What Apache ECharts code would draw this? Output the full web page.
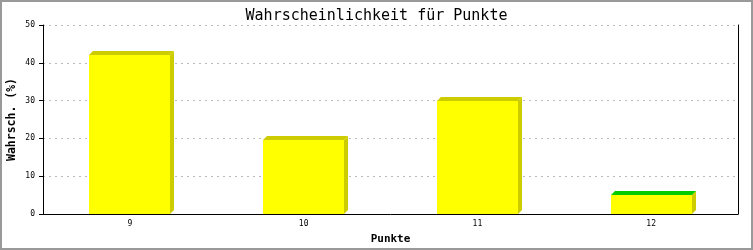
<!DOCTYPE html>
<html><head><meta charset="utf-8">
<script src="https://cdn.jsdelivr.net/npm/echarts@6/dist/echarts.min.js"></script>
<style>html,body{margin:0;padding:0;background:#fff}#c{width:753px;height:250px}</style>
</head><body><div id="c"></div>
<script>
const categories = ['9', '10', '11', '12'];
const values = [42, 19.6, 30, 5];
const topColors = ['#cccc00', '#cccc00', '#cccc00', '#00cc00'];
const yTicks = [0, 10, 20, 30, 40, 50];

const chart = echarts.init(document.getElementById('c'));
const mono = '"DejaVu Sans Mono", monospace';
chart.setOption({
  animation: false,
  backgroundColor: '#fff',
  title: {
    text: 'Wahrscheinlichkeit für Punkte', left: 'center', top: 4,
    textStyle: { fontFamily: mono, fontSize: 15, fontWeight: 'normal', color: '#000' }
  },
  grid: { left: 43, right: 15, top: 25, bottom: 36, show: false, containLabel: false, outerBoundsMode: 'none' },
  xAxis: {
    type: 'category', data: categories, boundaryGap: true,
    name: 'Punkte', nameLocation: 'middle', nameGap: 20, nameMoveOverlap: false,
    nameTextStyle: { fontFamily: mono, fontSize: 11, fontWeight: 'bold', color: '#000' },
    axisLine: { lineStyle: { color: '#000', width: 1 } },
    axisTick: { show: false },
    axisLabel: { fontFamily: mono, fontSize: 8, color: '#000', margin: 6 }
  },
  yAxis: [{
    type: 'value', min: yTicks[0], max: yTicks[yTicks.length - 1], interval: 10,
    name: 'Wahrsch. (%)', nameLocation: 'middle', nameGap: 25, nameMoveOverlap: false,
    nameTextStyle: { fontFamily: mono, fontSize: 11.5, fontWeight: 'bold', color: '#000' },
    axisLine: { show: true, lineStyle: { color: '#000', width: 1 } },
    axisTick: { show: true, length: 4, lineStyle: { color: '#000' } },
    axisLabel: { fontFamily: mono, fontSize: 8, color: '#000', margin: 8 },
    splitLine: { show: true, lineStyle: { color: '#bbb', type: [2, 4], width: 1 } }
  }, {
    type: 'value', min: 0, max: 50, interval: 10, position: 'right',
    axisLine: { show: true, lineStyle: { color: '#000', width: 1 } },
    axisTick: { show: false }, axisLabel: { show: false }, splitLine: { show: false }
  }],
  series: [{
    type: 'custom',
    data: values.map((v, i) => [i, v]),
    encode: { x: 0, y: 1 },
    renderItem: function (params, api) {
      const idx = api.value(0), v = api.value(1);
      const base = api.coord([idx, 0]);
      const top = api.coord([idx, v]);
      const w = api.size([1, 0])[0] * 0.466;
      const x0 = Math.round(base[0] - w / 2), x1 = Math.round(base[0] + w / 2);
      const y0 = Math.round(top[1]), yb = Math.round(base[1]);
      const d = 4;
      return {
        type: 'group',
        children: [
          { type: 'polygon', shape: { points: [[x1, y0], [x1 + d, y0 - d], [x1 + d, yb - d], [x1, yb]] },
            style: { fill: '#cccc00' } },
          { type: 'polygon', shape: { points: [[x0, y0], [x0 + d, y0 - d], [x1 + d, y0 - d], [x1, y0]] },
            style: { fill: topColors[params.dataIndex] } },
          { type: 'rect', shape: { x: x0, y: y0, width: x1 - x0, height: yb - y0 },
            style: { fill: '#ffff00' } }
        ]
      };
    }
  }],
  graphic: [{
    type: 'rect', shape: { x: 1, y: 1, width: 751, height: 248 },
    style: { fill: 'none', stroke: '#999', lineWidth: 2 }, silent: true
  }]
});
</script></body></html>
